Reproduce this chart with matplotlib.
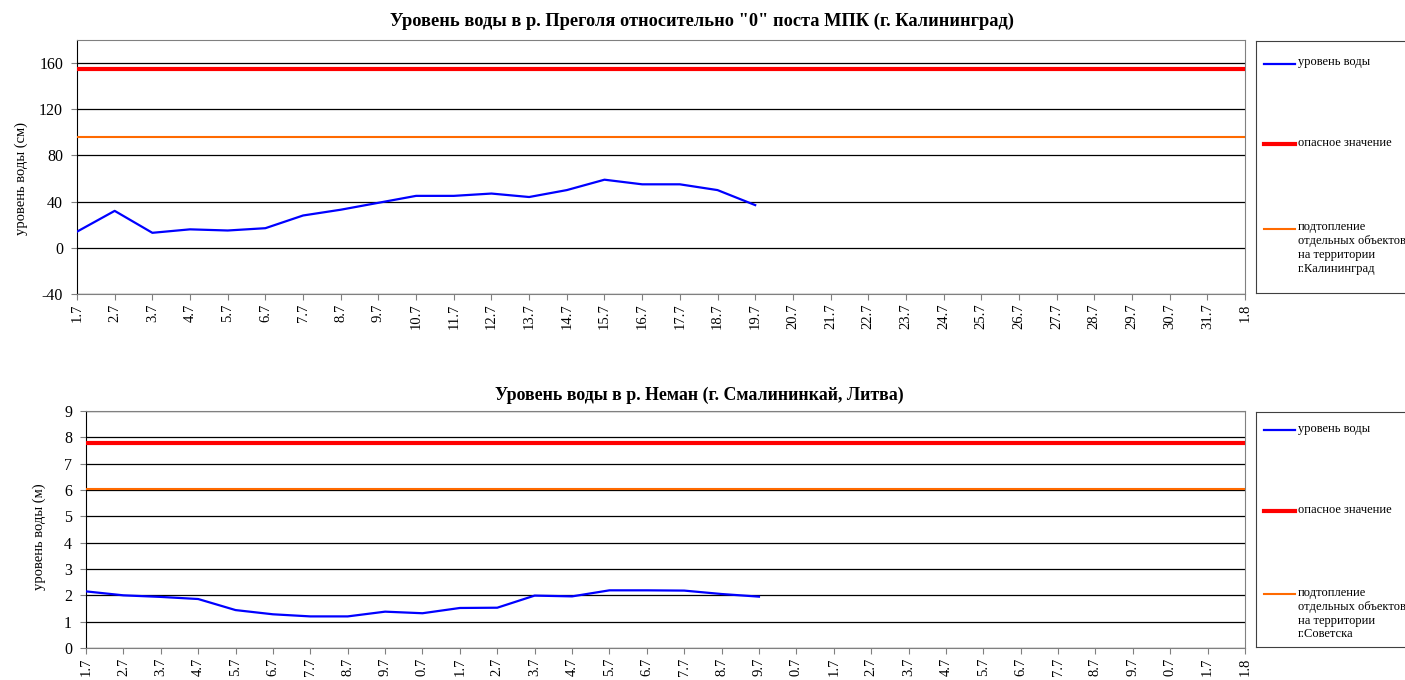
import matplotlib.pyplot as plt
from matplotlib.lines import Line2D

plt.rcParams['font.family'] = ['Liberation Serif', 'DejaVu Serif']
plt.rcParams['axes.unicode_minus'] = False

days_top = ['1.7', '2.7', '3.7', '4.7', '5.7', '6.7', '7.7', '8.7', '9.7', '10.7', '11.7',
            '12.7', '13.7', '14.7', '15.7', '16.7', '17.7', '18.7', '19.7', '20.7', '21.7',
            '22.7', '23.7', '24.7', '25.7', '26.7', '27.7', '28.7', '29.7', '30.7', '31.7', '1.8']
# the lower chart's labels are cut in the source picture, so only the last digits show
days_bottom = [d[-3:] for d in days_top]

pregolya = [14, 32, 13, 16, 15, 17, 28, 33, 39, 45, 45, 47, 44, 50, 59, 55, 55, 50, 37]
pregolya_danger = 155
pregolya_flood = 96

neman = [2.15, 2.0, 1.94, 1.86, 1.44, 1.28, 1.2, 1.2, 1.38, 1.32, 1.52, 1.53,
         1.99, 1.96, 2.19, 2.19, 2.18, 2.05, 1.95]
neman_danger = 7.79
neman_flood = 6.03

BLUE = '#0000ff'
RED = '#ff0000'
ORANGE = '#ff6a00'

W, H = 1405, 680
fig = plt.figure(figsize=(W / 100, H / 100), dpi=100)


def box(x0, y0, x1, y1):
    return [x0 / W, 1 - y1 / H, (x1 - x0) / W, (y1 - y0) / H]


def draw(ax, vals, danger, flood, labels, ylim, yticks, ylabel, lab_xy):
    n = len(labels)
    x = list(range(n))
    ax.plot(x, [danger] * n, color=RED, lw=3, zorder=3)
    ax.plot(x, [flood] * n, color=ORANGE, lw=1.5, zorder=3)
    ax.plot(x[:len(vals)], vals, color=BLUE, lw=1.6, zorder=4)
    ax.set_xlim(0, n - 1)
    ax.set_ylim(*ylim)
    ax.set_yticks(yticks)
    ax.set_xticks(x)
    ax.set_xticklabels(labels, rotation=90, fontsize=10.5)
    ax.tick_params(axis='y', labelsize=11.5, length=4, color='#808080', pad=6)
    ax.tick_params(axis='x', length=4, color='#808080', pad=3)
    ax.grid(axis='y', color='black', lw=0.9)
    ax.set_axisbelow(True)
    for s in ['top', 'right', 'bottom']:
        ax.spines[s].set_color('#808080')
    ax.spines['left'].set_color('black')
    ax.set_ylabel(ylabel, fontsize=10.5)
    ax.yaxis.set_label_coords(*lab_xy)


def legend_box(rect, place, names):
    lg = fig.add_axes(rect)
    lg.set_xlim(0, 1)
    lg.set_ylim(0, 1)
    lg.set_xticks([])
    lg.set_yticks([])
    lg.spines['right'].set_visible(False)
    for s in ['top', 'left', 'bottom']:
        lg.spines[s].set_color('#404040')
    styles = [(BLUE, 1.6), (RED, 3), (ORANGE, 1.5)]
    for (c, lw), y, name in zip(styles, place, names):
        lg.add_line(Line2D([0.055, 0.25], [y, y], color=c, lw=lw))
        lg.text(0.27, y + 0.03, name, fontsize=9, va='top', ha='left',
                linespacing=1.2, transform=lg.transAxes)


ax1 = fig.add_axes(box(77, 40, 1245, 294))
draw(ax1, pregolya, pregolya_danger, pregolya_flood, days_top, (-40, 180),
     [-40, 0, 40, 80, 120, 160], 'уровень воды (см)', (-0.042, 0.453))
fig.text(702 / W, 1 - 21 / H,
         'Уровень воды в р. Преголя относительно "0" поста МПК (г. Калининград)',
         fontsize=13.2, fontweight='bold', ha='center', va='center')

ax2 = fig.add_axes(box(86, 411, 1245, 648))
draw(ax2, neman, neman_danger, neman_flood, days_bottom, (0, 9),
     list(range(10)), 'уровень воды (м)', (-0.0345, 0.468))
fig.text(699 / W, 1 - 395 / H,
         'Уровень воды в р. Неман (г. Смалининкай, Литва)',
         fontsize=12.9, fontweight='bold', ha='center', va='center')

legend_box(box(1256, 41, 1410, 293), [0.91, 0.59, 0.255],
           ['уровень воды', 'опасное значение',
            'подтопление\nотдельных объектов\nна территории\nг.Калининград'])
legend_box(box(1256, 412, 1410, 647), [0.925, 0.58, 0.225],
           ['уровень воды', 'опасное значение',
            'подтопление\nотдельных объектов\nна территории\nг.Советска'])

fig.savefig('out.png', dpi=100)
